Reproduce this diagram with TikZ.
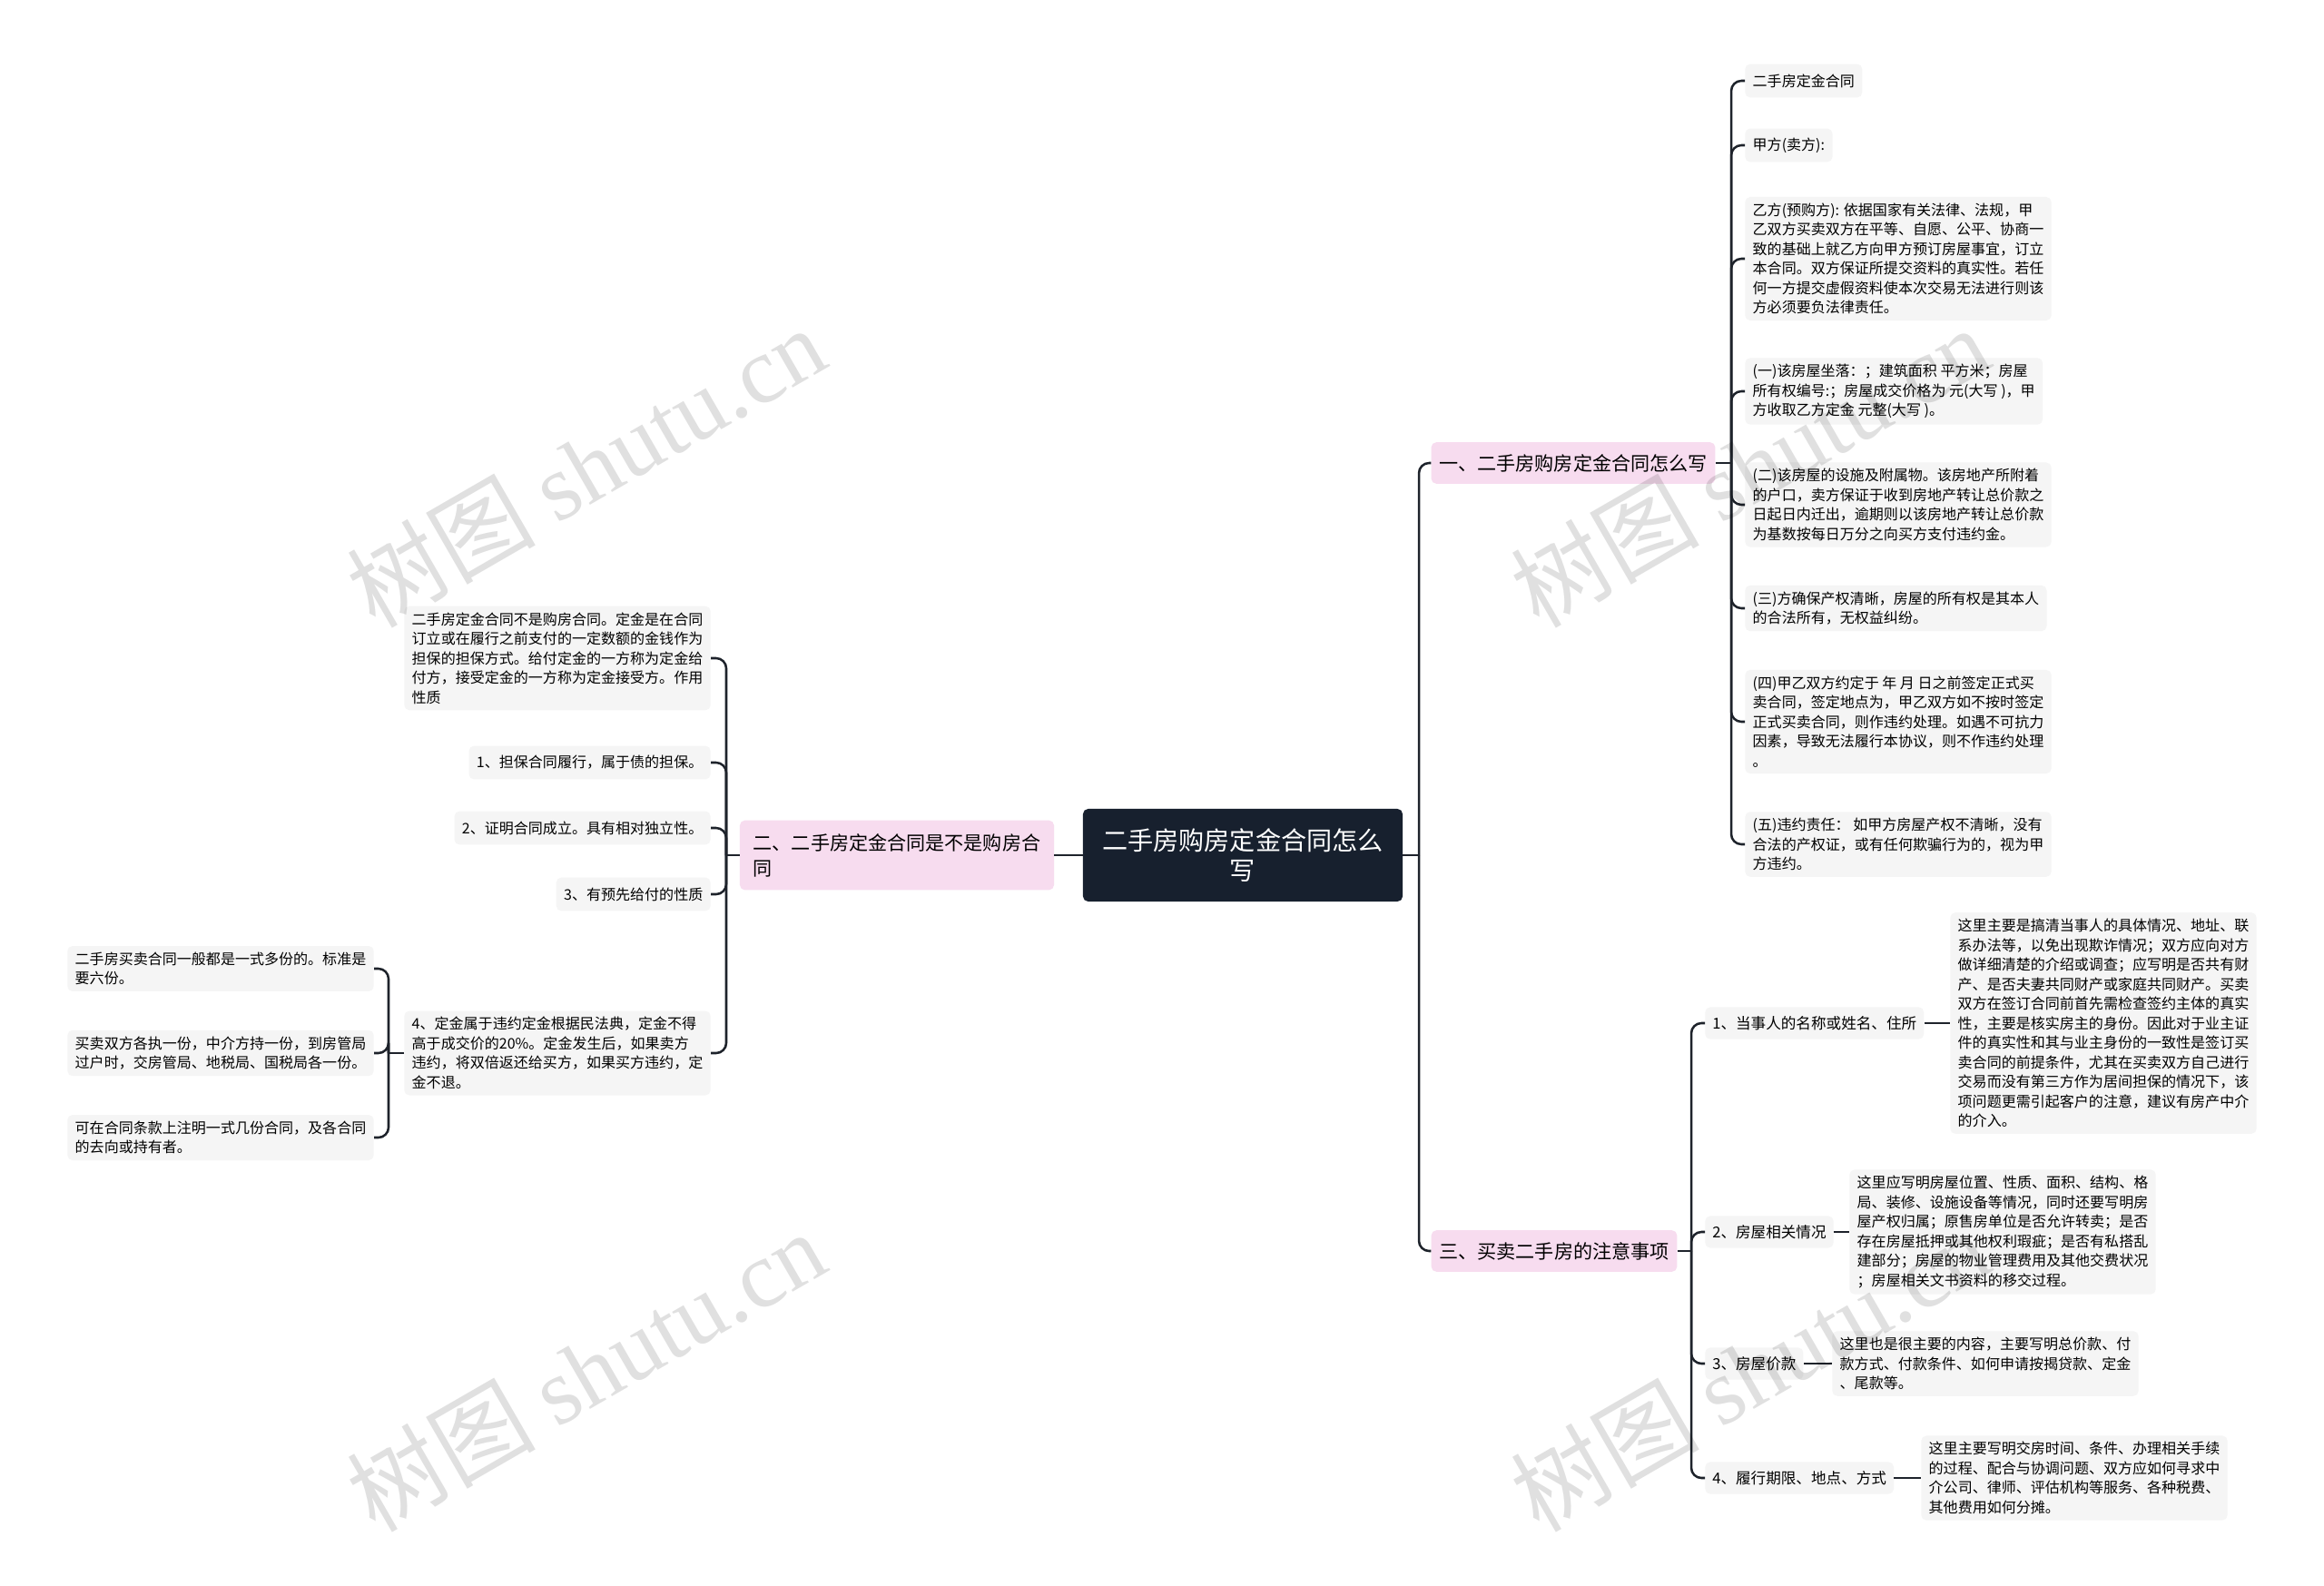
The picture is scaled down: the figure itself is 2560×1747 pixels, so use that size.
\documentclass[tikz,border=0pt]{standalone}
\usepackage{fontspec}
\setmainfont{Noto Sans CJK SC}
\newfontfamily\wmlatin{Liberation Serif}
\usetikzlibrary{calc, positioning}
\definecolor{rootfill}{HTML}{17202E}
\definecolor{topicfill}{HTML}{F7DCEF}
\definecolor{leaffill}{HTML}{F5F5F5}
\definecolor{linkcol}{HTML}{1E232B}

\begin{document}
\begin{tikzpicture}[x=0.025cm, y=-0.025cm,
  link/.style={line width=1.8pt, draw=linkcol, rounded corners=0.28cm},
  root/.style={fill=rootfill, text=white, rounded corners=4pt,
               minimum width=8.8cm, minimum height=2.55cm, align=center,
               font=\fontsize{20}{23.5}\selectfont},
  topic/.style={fill=topicfill, rounded corners=4pt, align=left,
                inner xsep=0.22cm, minimum height=1.14cm,
                font=\fontsize{15}{20}\selectfont},
  sub/.style={fill=leaffill, rounded corners=4pt, inner xsep=0.2cm,
              minimum height=0.88cm, font=\fontsize{11.8}{15.3}\selectfont},
  leaf/.style={fill=leaffill, rounded corners=4pt, align=left,
               inner xsep=0.21cm, inner ysep=0.17cm, minimum height=0.92cm,
               font=\fontsize{11.4}{15.3}\selectfont},
  wmark/.style={text=black, text opacity=0.12, rotate=30,
                font=\fontsize{74}{74}\selectfont}]

  \useasboundingbox[fill=white] (0,0) rectangle (2560,1747);

  % Root and main topics
  \node[root] (root) at (1369,942) {二手房购房定金合同怎么\\写};
  \node[topic] (b1) at (1733,510) {一、二手房购房定金合同怎么写};
  \node[topic, minimum width=8.65cm, minimum height=1.92cm] (b2) at (988,942)
    {二、二手房定金合同是不是购房合\\同};
  \node[topic] (b3) at (1712,1378) {三、买卖二手房的注意事项};

  \coordinate (trunk) at (1563,942);
  \coordinate (b1bus) at (1907,510);
  \coordinate (b2bus) at (800,942);
  \coordinate (b3bus) at (1863,1378);

  % Topic one: contract text
  \node[leaf, anchor=west] (c1) at (1922,89) {二手房定金合同};
  \node[leaf, anchor=west] (c2) at (1922,160) {甲方(卖方):};
  \node[leaf, anchor=west] (c3) at (1922,285)
    {乙方(预购方): 依据国家有关法律、法规，甲\\
     乙双方买卖双方在平等、自愿、公平、协商一\\
     致的基础上就乙方向甲方预订房屋事宜，订立\\
     本合同。双方保证所提交资料的真实性。若任\\
     何一方提交虚假资料使本次交易无法进行则该\\
     方必须要负法律责任。};
  \node[leaf, anchor=west] (c4) at (1922,431)
    {(一)该房屋坐落：；建筑面积 平方米；房屋\\
     所有权编号:；房屋成交价格为 元(大写 )，甲\\
     方收取乙方定金 元整(大写 )。};
  \node[leaf, anchor=west] (c5) at (1922,556)
    {(二)该房屋的设施及附属物。该房地产所附着\\
     的户口，卖方保证于收到房地产转让总价款之\\
     日起日内迁出，逾期则以该房地产转让总价款\\
     为基数按每日万分之向买方支付违约金。};
  \node[leaf, anchor=west] (c6) at (1922,670)
    {(三)方确保产权清晰，房屋的所有权是其本人\\
     的合法所有，无权益纠纷。};
  \node[leaf, anchor=west] (c7) at (1922,795)
    {(四)甲乙双方约定于 年 月 日之前签定正式买\\
     卖合同，签定地点为，甲乙双方如不按时签定\\
     正式买卖合同，则作违约处理。如遇不可抗力\\
     因素，导致无法履行本协议，则不作违约处理\\
     。};
  \node[leaf, anchor=west] (c8) at (1922,930)
    {(五)违约责任： 如甲方房屋产权不清晰，没有\\
     合法的产权证，或有任何欺骗行为的，视为甲\\
     方违约。};

  % Topic two: is it a purchase contract
  \node[leaf, anchor=east] (l1) at (783,725)
    {二手房定金合同不是购房合同。定金是在合同\\
     订立或在履行之前支付的一定数额的金钱作为\\
     担保的担保方式。给付定金的一方称为定金给\\
     付方，接受定金的一方称为定金接受方。作用\\
     性质};
  \node[leaf, anchor=east] (l2) at (783,840) {1、担保合同履行，属于债的担保。};
  \node[leaf, anchor=east] (l3) at (783,912) {2、证明合同成立。具有相对独立性。};
  \node[leaf, anchor=east] (l4) at (783,985) {3、有预先给付的性质};
  \node[leaf, anchor=east] (l5) at (783,1160)
    {4、定金属于违约定金根据民法典，定金不得\\
     高于成交价的20\%。定金发生后，如果卖方\\
     违约，将双倍返还给买方，如果买方违约，定\\
     金不退。};
  \coordinate (l5bus) at (428,1160);
  \node[leaf, anchor=east] (n1) at (412,1067)
    {二手房买卖合同一般都是一式多份的。标准是\\
     要六份。};
  \node[leaf, anchor=east] (n2) at (412,1160)
    {买卖双方各执一份，中介方持一份，到房管局\\
     过户时，交房管局、地税局、国税局各一份。};
  \node[leaf, anchor=east] (n3) at (412,1253)
    {可在合同条款上注明一式几份合同，及各合同\\
     的去向或持有者。};

  % Topic three: points to watch
  \node[sub, anchor=west] (d1) at (1878,1127) {1、当事人的名称或姓名、住所};
  \node[sub, anchor=west] (d2) at (1878,1357) {2、房屋相关情况};
  \node[sub, anchor=west] (d3) at (1878,1502) {3、房屋价款};
  \node[sub, anchor=west] (d4) at (1878,1628) {4、履行期限、地点、方式};
  \node[leaf, anchor=west] (t1) at (2148,1127)
    {这里主要是搞清当事人的具体情况、地址、联\\
     系办法等，以免出现欺诈情况；双方应向对方\\
     做详细清楚的介绍或调查；应写明是否共有财\\
     产、是否夫妻共同财产或家庭共同财产。买卖\\
     双方在签订合同前首先需检查签约主体的真实\\
     性，主要是核实房主的身份。因此对于业主证\\
     件的真实性和其与业主身份的一致性是签订买\\
     卖合同的前提条件，尤其在买卖双方自己进行\\
     交易而没有第三方作为居间担保的情况下，该\\
     项问题更需引起客户的注意，建议有房产中介\\
     的介入。};
  \node[leaf, anchor=west] (t2) at (2037,1357)
    {这里应写明房屋位置、性质、面积、结构、格\\
     局、装修、设施设备等情况，同时还要写明房\\
     屋产权归属；原售房单位是否允许转卖；是否\\
     存在房屋抵押或其他权利瑕疵；是否有私搭乱\\
     建部分；房屋的物业管理费用及其他交费状况\\
     ；房屋相关文书资料的移交过程。};
  \node[leaf, anchor=west] (t3) at (2018,1502)
    {这里也是很主要的内容，主要写明总价款、付\\
     款方式、付款条件、如何申请按揭贷款、定金\\
     、尾款等。};
  \node[leaf, anchor=west] (t4) at (2116,1628)
    {这里主要写明交房时间、条件、办理相关手续\\
     的过程、配合与协调问题、双方应如何寻求中\\
     介公司、律师、评估机构等服务、各种税费、\\
     其他费用如何分摊。};

  % Connectors
  \draw[link] (root.east) -- (trunk);
  \foreach \t in {b1,b3} \draw[link] (trunk) |- (\t.west);
  \draw[link] (root.west) -- (b2.east);
  \draw[link] (b1.east) -- (b1bus);
  \foreach \c in {c1,c2,c3,c4,c5,c6,c7,c8} \draw[link] (b1bus) |- (\c.west);
  \draw[link] (b2.west) -- (b2bus);
  \foreach \c in {l1,l2,l3,l4,l5} \draw[link] (b2bus) |- (\c.east);
  \draw[link] (l5.west) -- (l5bus);
  \foreach \c in {n1,n2,n3} \draw[link] (l5bus) |- (\c.east);
  \draw[link] (b3.east) -- (b3bus);
  \foreach \c in {d1,d2,d3,d4} \draw[link] (b3bus) |- (\c.west);
  \foreach \c in {1,2,3,4} \draw[link] (d\c.east) -- (t\c.west);

  % Watermarks
  \foreach \p [count=\i] in {(645,514),(1927,514),(645,1510),(1927,1510)}
    \node[wmark] (wm\i) at \p {树图 {\wmlatin shutu.cn}};
\end{tikzpicture}
\end{document}
